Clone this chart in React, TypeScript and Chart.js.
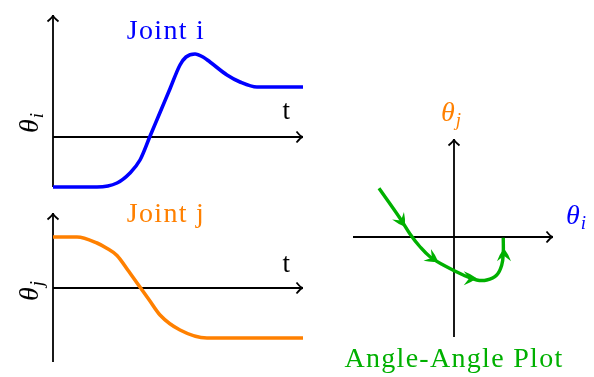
import React, { useEffect, useRef } from "react";
import { Chart, registerables } from "chart.js";
Chart.register(...registerables);

// ---- data ----
const timeI = [0, 1.76, 2.56, 3.08, 3.48, 3.88, 4.28, 4.68, 5.08, 5.32, 5.68, 6.0, 6.28, 6.96, 7.48, 8.16, 10];
const thetaI = [-2, -2, -1.84, -1.44, -0.92, 0.03, 0.98, 1.93, 2.88, 3.2, 3.32, 3.2, 3.0, 2.48, 2.2, 2.0, 2.0];
const timeJ = [0, 0.96, 1.76, 2.15, 2.56, 2.99, 3.42, 3.85, 4.28, 5.08, 6.16, 10];
const thetaJ = [2.04, 2.04, 1.8, 1.59, 1.3, 0.72, 0.12, -0.48, -1.08, -1.68, -2.0, -2.0];
const angleI = [-3.0, -2.16, -1.76, -1.36, -0.96, -0.43, 0.37, 0.91, 1.31, 1.71, 1.91, 1.97, 1.97];
const angleJ = [1.95, 0.75, 0.12, -0.39, -0.79, -1.12, -1.52, -1.72, -1.72, -1.52, -1.12, -0.65, -0.03];
// arrowhead tips along the angle-angle path
const arrowTipI = [-1.96, -0.63, 0.91, 2.0];
const arrowTipJ = [0.41, -0.99, -1.65, -0.45];

const BLUE = "#0000ff";
const ORANGE = "#ff8000";
const GREEN = "#00b000";
const FONT = "'Liberation Serif', 'DejaVu Serif', serif";

function arrowLine(ctx: CanvasRenderingContext2D, x1: number, y1: number, x2: number, y2: number) {
  ctx.beginPath();
  ctx.moveTo(x1, y1);
  ctx.lineTo(x2, y2);
  ctx.stroke();
  const a = Math.atan2(y2 - y1, x2 - x1);
  const dx = Math.cos(a), dy = Math.sin(a);
  const L = 6.5, W = 5.5;
  ctx.beginPath();
  ctx.moveTo(x2 - L * dx - W * dy, y2 - L * dy + W * dx);
  ctx.quadraticCurveTo(x2 - 2 * dx, y2 - 2 * dy, x2, y2);
  ctx.quadraticCurveTo(x2 - 2 * dx, y2 - 2 * dy, x2 - L * dx + W * dy, y2 - L * dy - W * dx);
  ctx.stroke();
}

function drawTheta(ctx: CanvasRenderingContext2D, x: number, y: number, sub: string, color: string, rotate: boolean) {
  ctx.save();
  ctx.translate(x, y);
  if (rotate) ctx.rotate(-Math.PI / 2);
  ctx.fillStyle = color;
  ctx.textAlign = "left";
  ctx.textBaseline = "alphabetic";
  ctx.font = `italic 28px ${FONT}`;
  const w = ctx.measureText("θ").width;
  ctx.fillText("θ", 0, 0);
  ctx.font = `italic 19px ${FONT}`;
  ctx.fillText(sub, w + 1, 5);
  ctx.restore();
}

function drawText(ctx: CanvasRenderingContext2D, text: string, x: number, y: number, color: string, size: number) {
  ctx.save();
  ctx.fillStyle = color;
  ctx.font = `${size}px ${FONT}`;
  ctx.textAlign = "center";
  ctx.textBaseline = "alphabetic";
  (ctx as any).letterSpacing = "1.3px";
  ctx.fillText(text, x, y);
  ctx.restore();
}

type TimeCfg = {
  xs: number[]; ys: number[]; color: string; title: string; sub: string;
  yMin: number; yMax: number; padding: any; titleY: number; tY: number; thetaY: number;
};

function timeConfig(c: TimeCfg): any {
  const plugin = {
    id: "timeAxes",
    beforeDatasetsDraw(chart: any) {
      const { ctx, chartArea: a, scales } = chart;
      const y0 = scales.y.getPixelForValue(0);
      ctx.save();
      ctx.strokeStyle = "#000";
      ctx.lineWidth = 1.8;
      ctx.lineCap = "butt";
      arrowLine(ctx, a.left, y0, a.right, y0);
      arrowLine(ctx, a.left, a.bottom, a.left, a.top);
      ctx.restore();
      drawText(ctx, c.title, 166, c.titleY, c.color, 28);
      drawText(ctx, "t", 287, c.tY, "#000", 27);
      drawTheta(ctx, 38, c.thetaY, c.sub, "#000", true);
    },
  };
  return {
    type: "line",
    data: {
      datasets: [
        {
          data: c.xs.map((x, i) => ({ x, y: c.ys[i] })),
          borderColor: c.color,
          borderWidth: 3.6,
          pointRadius: 0,
          cubicInterpolationMode: "monotone",
          fill: false,
          clip: false,
        },
      ],
    },
    options: {
      animation: false,
      responsive: false,
      layout: { padding: c.padding },
      plugins: { legend: { display: false }, tooltip: { enabled: false }, title: { display: false } },
      scales: {
        x: { type: "linear", min: 0, max: 10, display: false },
        y: { type: "linear", min: c.yMin, max: c.yMax, display: false },
      },
    },
    plugins: [plugin],
  };
}

function angleConfig(): any {
  const plugin = {
    id: "angleAxes",
    beforeDatasetsDraw(chart: any) {
      const { ctx, chartArea: a, scales } = chart;
      const y0 = scales.y.getPixelForValue(0);
      const x0 = scales.x.getPixelForValue(0);
      ctx.save();
      ctx.strokeStyle = "#000";
      ctx.lineWidth = 1.8;
      arrowLine(ctx, a.left, y0, a.right, y0);
      arrowLine(ctx, x0, a.bottom, x0, a.top);
      ctx.restore();
      drawTheta(ctx, 121, 26, "j", ORANGE, false);
      drawTheta(ctx, 246, 129, "i", BLUE, false);
      drawText(ctx, "Angle-Angle Plot", 134, 272, GREEN, 28);
    },
    afterDatasetsDraw(chart: any) {
      const { ctx, scales } = chart;
      const pts = angleI.map((x, i) => ({ x: scales.x.getPixelForValue(x), y: scales.y.getPixelForValue(angleJ[i]) }));
      ctx.save();
      ctx.fillStyle = GREEN;
      arrowTipI.forEach((ai, n) => {
        const px = scales.x.getPixelForValue(ai);
        const py = scales.y.getPixelForValue(arrowTipJ[n]);
        // direction from nearest path segment
        let best = 1, bestD = Infinity;
        for (let k = 1; k < pts.length; k++) {
          const mx = (pts[k].x + pts[k - 1].x) / 2, my = (pts[k].y + pts[k - 1].y) / 2;
          const dd = Math.hypot(mx - px, my - py);
          if (dd < bestD) { bestD = dd; best = k; }
        }
        const len = Math.hypot(pts[best].x - pts[best - 1].x, pts[best].y - pts[best - 1].y);
        const dx = (pts[best].x - pts[best - 1].x) / len;
        const dy = (pts[best].y - pts[best - 1].y) / len;
        const L = 13, W = 7, N = 7.5;
        ctx.beginPath();
        ctx.moveTo(px, py);
        ctx.quadraticCurveTo(px - 6 * dx - 4.5 * dy, py - 6 * dy + 4.5 * dx, px - L * dx - W * dy, py - L * dy + W * dx);
        ctx.lineTo(px - N * dx, py - N * dy);
        ctx.lineTo(px - L * dx + W * dy, py - L * dy - W * dx);
        ctx.quadraticCurveTo(px - 6 * dx + 4.5 * dy, py - 6 * dy - 4.5 * dx, px, py);
        ctx.closePath();
        ctx.fill();
      });
      ctx.restore();
    },
  };
  return {
    type: "scatter",
    data: {
      datasets: [
        {
          data: angleI.map((x, i) => ({ x, y: angleJ[i] })),
          showLine: true,
          borderColor: GREEN,
          borderWidth: 3.4,
          pointRadius: 0,
          tension: 0.4,
          fill: false,
          clip: false,
        },
      ],
    },
    options: {
      animation: false,
      responsive: false,
      layout: { padding: { left: 33, right: 41, top: 44, bottom: 40 } },
      plugins: { legend: { display: false }, tooltip: { enabled: false } },
      scales: {
        x: { type: "linear", min: -4.04, max: 3.96, display: false },
        y: { type: "linear", min: -4.0, max: 3.92, display: false },
      },
    },
    plugins: [plugin],
  };
}

function ChartCanvas(props: { make: () => any; left: number; top: number; width: number; height: number }) {
  const ref = useRef<HTMLCanvasElement | null>(null);
  useEffect(() => {
    if (!ref.current) return;
    const chart = new Chart(ref.current, props.make());
    return () => chart.destroy();
  }, []);
  return (
    <canvas
      ref={ref}
      width={props.width}
      height={props.height}
      style={{ position: "absolute", left: props.left, top: props.top, width: props.width, height: props.height }}
    />
  );
}

export default function App() {
  return (
    <div style={{ position: "absolute", left: 0, top: 0, width: 594, height: 377, background: "#fff" }}>
      <ChartCanvas
        left={0}
        top={0}
        width={320}
        height={195}
        make={() =>
          timeConfig({
            xs: timeI, ys: thetaI, color: BLUE, title: "Joint i", sub: "i",
            yMin: -2, yMax: 4.88, padding: { left: 53, right: 17, top: 15, bottom: 8 },
            titleY: 39, tY: 119, thetaY: 133,
          })
        }
      />
      <ChartCanvas
        left={0}
        top={195}
        width={320}
        height={182}
        make={() =>
          timeConfig({
            xs: timeJ, ys: thetaJ, color: ORANGE, title: "Joint j", sub: "j",
            yMin: -2.96, yMax: 3, padding: { left: 53, right: 17, top: 18, bottom: 15 },
            titleY: 27, tY: 77, thetaY: 106,
          })
        }
      />
      <ChartCanvas left={320} top={95} width={274} height={282} make={angleConfig} />
    </div>
  );
}
